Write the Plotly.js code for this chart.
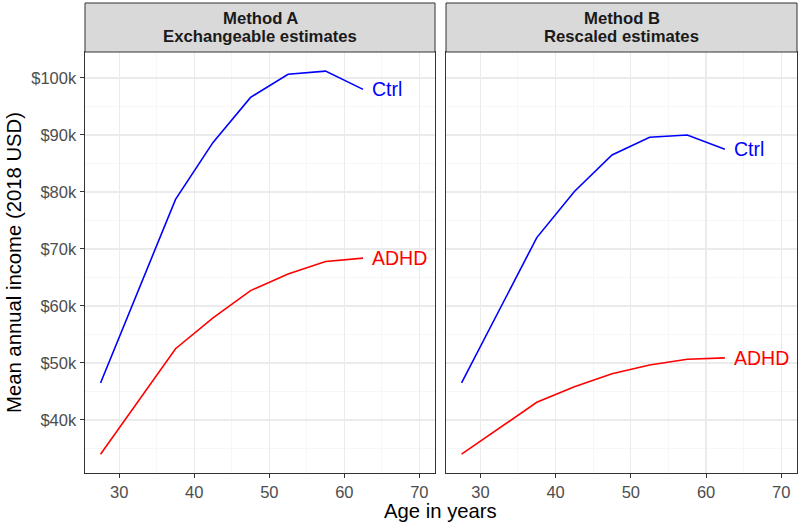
<!DOCTYPE html>
<html>
<head>
<meta charset="utf-8">
<script src="https://cdn.plot.ly/plotly-3.0.1.min.js"></script>
<style>html,body{margin:0;padding:0;background:#fff;}#chart{width:800px;height:526px;}</style>
</head>
<body>
<div id="chart"></div>
<script>
// Data (income in USD)
const ages = [27.5, 37.5, 42.5, 47.5, 52.5, 57.5, 62.5];
const ctrlA = [46500, 78700, 88700, 96600, 100650, 101200, 98000];
const adhdA = [34000, 52500, 57900, 62700, 65600, 67800, 68400];
const ctrlB = [46500, 72000, 80100, 86500, 89600, 90000, 87500];
const adhdB = [34000, 43100, 45850, 48100, 49650, 50650, 50900];
const stripLine1 = ["Method A", "Method B"];
const stripLine2 = ["Exchangeable estimates", "Rescaled estimates"];
const seriesNames = ["Ctrl", "ADHD"];
const xTitle = "Age in years";
const yTitle = "Mean annual income (2018 USD)";

const FONT = "Liberation Sans, Arial, sans-serif";
const BLUE = "#0000ff", RED = "#ff0000";
const W = 800, H = 526;
const px = v => v / W;
const py = v => 1 - v / H;

function line(x, y, color, xa, ya) {
  return {x: x, y: y, type: "scatter", mode: "lines", xaxis: xa, yaxis: ya,
    line: {color: color, width: 1.6}, hoverinfo: "skip", showlegend: false};
}
const data = [
  line(ages, ctrlA, BLUE, "x", "y"),
  line(ages, adhdA, RED, "x", "y"),
  line(ages, ctrlB, BLUE, "x2", "y2"),
  line(ages, adhdB, RED, "x2", "y2")
];

const xRange = [25.43, 72.09];
const yRange = [30700, 104560];
const yDomain = [py(473), py(52)];

function xaxis(domain) {
  return {domain: domain, range: xRange, dtick: 10, tick0: 0,
    showgrid: true, gridcolor: "#ebebeb", gridwidth: 1.1,
    minor: {dtick: 5, showgrid: true, gridcolor: "#f2f2f2", gridwidth: 0.6},
    showline: true, mirror: true, linecolor: "#333333", linewidth: 1,
    ticks: "outside", ticklen: 4, tickcolor: "#333333", tickwidth: 1,
    tickfont: {family: FONT, size: 16.5, color: "#4d4d4d"},
    zeroline: false, fixedrange: true};
}
function yaxis(showLabels, anchor) {
  return {domain: yDomain, range: yRange, dtick: 10000, tick0: 0, anchor: anchor,
    tickformat: "$~s",
    showgrid: true, gridcolor: "#ebebeb", gridwidth: 1.1,
    minor: {dtick: 5000, showgrid: true, gridcolor: "#f2f2f2", gridwidth: 0.6},
    showline: true, mirror: true, linecolor: "#333333", linewidth: 1,
    ticks: showLabels ? "outside" : "", ticklen: 4.5, tickcolor: "#333333", tickwidth: 1,
    showticklabels: showLabels,
    tickfont: {family: FONT, size: 16.5, color: "#4d4d4d"},
    zeroline: false, fixedrange: true};
}

const shapes = [];
const annotations = [];
const panels = [
  {xa: "x", ya: "y", ctrl: ctrlA, adhd: adhdA},
  {xa: "x2", ya: "y2", ctrl: ctrlB, adhd: adhdB}
];
panels.forEach((p, i) => {
  const xd = (i === 0 ? "x" : "x2") + " domain";
  shapes.push({type: "rect", xref: xd, yref: "paper", x0: 0, x1: 1, y0: py(52), y1: py(3),
    fillcolor: "#d9d9d9", line: {color: "#333333", width: 1}, layer: "above"});
  annotations.push({xref: xd, yref: "paper", x: 0.5, y: py(18.5), text: stripLine1[i],
    showarrow: false, xanchor: "center", yanchor: "middle",
    font: {family: FONT, size: 16.7, color: "#1a1a1a", weight: "bold"}});
  annotations.push({xref: xd, yref: "paper", x: 0.5, y: py(36.7), text: stripLine2[i],
    showarrow: false, xanchor: "center", yanchor: "middle",
    font: {family: FONT, size: 16.7, color: "#1a1a1a", weight: "bold"}});
  const last = ages.length - 1;
  annotations.push({xref: p.xa, yref: p.ya, x: ages[last], y: p.ctrl[last], text: seriesNames[0],
    showarrow: false, xanchor: "left", yanchor: "middle", xshift: 7,
    font: {family: FONT, size: 19.5, color: BLUE}});
  annotations.push({xref: p.xa, yref: p.ya, x: ages[last], y: p.adhd[last], text: seriesNames[1],
    showarrow: false, xanchor: "left", yanchor: "middle", xshift: 7,
    font: {family: FONT, size: 19.5, color: RED}});
});
annotations.push({xref: "paper", yref: "paper", x: px(440), y: py(511), text: xTitle,
  showarrow: false, xanchor: "center", yanchor: "middle",
  font: {family: FONT, size: 20.3, color: "#000000"}});
annotations.push({xref: "paper", yref: "paper", x: px(14), y: py(263), text: yTitle,
  showarrow: false, xanchor: "center", yanchor: "middle", textangle: -90,
  font: {family: FONT, size: 20.3, color: "#000000"}});

const layout = {
  width: W, height: H,
  margin: {l: 0, r: 0, t: 0, b: 0},
  paper_bgcolor: "#ffffff", plot_bgcolor: "#ffffff",
  showlegend: false,
  font: {family: FONT},
  xaxis: xaxis([px(85), px(435)]),
  xaxis2: xaxis([px(446), px(797)]),
  yaxis: yaxis(true, "x"),
  yaxis2: yaxis(false, "x2"),
  shapes: shapes,
  annotations: annotations
};
layout.xaxis.anchor = "y";
layout.xaxis2.anchor = "y2";

Plotly.newPlot("chart", data, layout, {displayModeBar: false, staticPlot: true});
</script>
</body>
</html>
